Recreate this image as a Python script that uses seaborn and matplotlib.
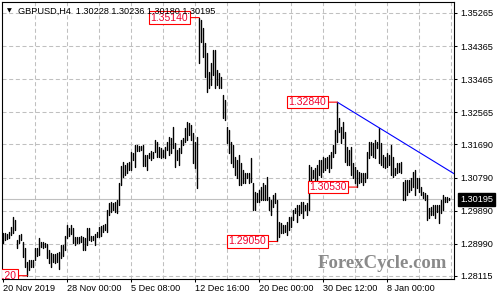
import numpy as np
import pandas as pd
import matplotlib
matplotlib.use("Agg")
import matplotlib.pyplot as plt
import seaborn as sns

# GBPUSD 4-hour bars (high / low of each bar)
symbol = "GBPUSD,H4"
last_ohlc = [1.30228, 1.30236, 1.30180, 1.30195]

highs = [
    1.2928, 1.2928, 1.2925, 1.2931, 1.2944, 1.2972, 1.2964, 1.2909, 1.2923, 1.2925,
    1.2904, 1.2887, 1.2849, 1.2855, 1.2855, 1.2855, 1.2887, 1.2887, 1.2915, 1.2904,
    1.2904, 1.2901, 1.2898, 1.2882, 1.2874, 1.2871, 1.2871, 1.2874, 1.2876, 1.2896,
    1.2896, 1.2920, 1.2950, 1.2942, 1.2950, 1.2942, 1.2917, 1.2917, 1.2917, 1.2920,
    1.2917, 1.2915, 1.2942, 1.2942, 1.2920, 1.2920, 1.2925, 1.2931, 1.2944, 1.2947,
    1.2950, 1.2953, 1.2991, 1.3010, 1.3013, 1.3010, 1.3013, 1.3018, 1.3064, 1.3110,
    1.3121, 1.3113, 1.3119, 1.3121, 1.3149, 1.3146, 1.3168, 1.3168, 1.3165, 1.3165,
    1.3168, 1.3140, 1.3140, 1.3146, 1.3151, 1.3149, 1.3181, 1.3176, 1.3162, 1.3159,
    1.3154, 1.3162, 1.3176, 1.3189, 1.3187, 1.3216, 1.3173, 1.3154, 1.3159, 1.3181,
    1.3187, 1.3214, 1.3230, 1.3227, 1.3222, 1.3200, 1.3176, 1.3189, 1.3514, 1.3508,
    1.3486, 1.3445, 1.3418, 1.3366, 1.3391, 1.3426, 1.3426, 1.3372, 1.3363, 1.3352,
    1.3303, 1.3290, 1.3216, 1.3208, 1.3176, 1.3168, 1.3135, 1.3127, 1.3140, 1.3119,
    1.3100, 1.3091, 1.3091, 1.3091, 1.3132, 1.3064, 1.3040, 1.3037, 1.3045, 1.3053,
    1.3064, 1.3059, 1.3080, 1.3026, 1.3018, 1.3031, 1.3037, 1.3018, 1.2958, 1.2955,
    1.2950, 1.2950, 1.2958, 1.2972, 1.2972, 1.2991, 1.2996, 1.3004, 1.3004, 1.3013,
    1.3013, 1.3004, 1.3010, 1.3113, 1.3108, 1.3100, 1.3105, 1.3113, 1.3127, 1.3127,
    1.3135, 1.3132, 1.3135, 1.3140, 1.3149, 1.3168, 1.3208, 1.3284, 1.3241, 1.3216,
    1.3230, 1.3203, 1.3162, 1.3154, 1.3162, 1.3119, 1.3108, 1.3100, 1.3094, 1.3091,
    1.3091, 1.3091, 1.3149, 1.3176, 1.3176, 1.3173, 1.3181, 1.3176, 1.3214, 1.3173,
    1.3140, 1.3135, 1.3146, 1.3140, 1.3168, 1.3135, 1.3105, 1.3119, 1.3119, 1.3121,
    1.3067, 1.3072, 1.3072, 1.3072, 1.3078, 1.3094, 1.3100, 1.3078, 1.3078, 1.3053,
    1.3040, 1.3037, 1.3031, 1.2996, 1.2999, 1.3004, 1.3004, 1.3004, 1.3004, 1.3018,
    1.3031, 1.3026, 1.3026, 1.30236,
]

lows = [
    1.2901, 1.2909, 1.2912, 1.2915, 1.2923, 1.2928, 1.2936, 1.2887, 1.2901, 1.2909,
    1.2863, 1.2836, 1.2812, 1.2828, 1.2836, 1.2836, 1.2855, 1.2866, 1.2868, 1.2890,
    1.2887, 1.2890, 1.2860, 1.2847, 1.2836, 1.2849, 1.2847, 1.2849, 1.2830, 1.2860,
    1.2866, 1.2882, 1.2915, 1.2920, 1.2925, 1.2901, 1.2896, 1.2901, 1.2901, 1.2904,
    1.2882, 1.2882, 1.2896, 1.2909, 1.2906, 1.2909, 1.2896, 1.2917, 1.2917, 1.2920,
    1.2931, 1.2936, 1.2931, 1.2977, 1.2985, 1.2991, 1.2985, 1.2983, 1.3004, 1.3059,
    1.3081, 1.3086, 1.3091, 1.3100, 1.3100, 1.3127, 1.3108, 1.3151, 1.3151, 1.3154,
    1.3110, 1.3110, 1.3100, 1.3132, 1.3127, 1.3132, 1.3149, 1.3135, 1.3135, 1.3132,
    1.3135, 1.3132, 1.3154, 1.3140, 1.3146, 1.3159, 1.3108, 1.3127, 1.3113, 1.3146,
    1.3168, 1.3176, 1.3181, 1.3195, 1.3181, 1.3119, 1.3105, 1.3051, 1.3391, 1.3448,
    1.3407, 1.3352, 1.3312, 1.3323, 1.3331, 1.3358, 1.3323, 1.3331, 1.3323, 1.3323,
    1.3241, 1.3235, 1.3173, 1.3146, 1.3119, 1.3108, 1.3086, 1.3078, 1.3059, 1.3059,
    1.3064, 1.3064, 1.3078, 1.3064, 1.3067, 1.2991, 1.2991, 1.3013, 1.3013, 1.3018,
    1.3018, 1.3018, 1.3018, 1.2991, 1.2977, 1.2999, 1.3010, 1.2905, 1.2917, 1.2928,
    1.2928, 1.2931, 1.2923, 1.2936, 1.2944, 1.2964, 1.2983, 1.2958, 1.2977, 1.2983,
    1.2969, 1.2991, 1.2977, 1.2991, 1.3064, 1.3078, 1.3064, 1.3072, 1.3086, 1.3081,
    1.3094, 1.3100, 1.3105, 1.3094, 1.3105, 1.3135, 1.3146, 1.3176, 1.3203, 1.3173,
    1.3187, 1.3121, 1.3113, 1.3113, 1.3086, 1.3078, 1.3064, 1.3053, 1.3064, 1.3067,
    1.3059, 1.3067, 1.3078, 1.3132, 1.3140, 1.3135, 1.3132, 1.3159, 1.3119, 1.3113,
    1.3108, 1.3105, 1.3108, 1.3113, 1.3086, 1.3081, 1.3086, 1.3091, 1.3094, 1.3091,
    1.3018, 1.3018, 1.3031, 1.3040, 1.3045, 1.3053, 1.3031, 1.3051, 1.3040, 1.3031,
    1.3023, 1.3018, 1.2963, 1.2969, 1.2977, 1.2977, 1.2969, 1.2985, 1.2955, 1.2983,
    1.2991, 1.3013, 1.3013, 1.30180,
]

date_labels = ["20 Nov 2019", "28 Nov 00:00", "5 Dec 08:00", "12 Dec 16:00",
               "20 Dec 00:00", "30 Dec 12:00", "8 Jan 00:00"]
price_ticks = [1.35265, 1.34365, 1.33465, 1.32565, 1.31690,
               1.30790, 1.29890, 1.28990, 1.28115]
swing_bars = [12, 98, 137, 167, 177]
swing_kinds = ["low", "high", "low", "high", "low"]
trend_bars = [167, 188]

sns.set_theme(style="white")
plt.rcParams["font.family"] = ["Liberation Sans", "DejaVu Sans"]
plt.rcParams["lines.scale_dashes"] = False

fig = plt.figure(figsize=(5, 3), dpi=100)
ax = fig.add_axes([2.3 / 500, 21 / 300, 452 / 500, 277 / 300])

n = len(highs)
bars = pd.DataFrame({
    "bar": np.repeat(np.arange(n), 2),
    "price": np.column_stack([lows, highs]).ravel(),
})

# one vertical high-low stroke per bar
sns.lineplot(data=bars, x="bar", y="price", units="bar", estimator=None,
             sort=False, color="black", lw=1.0, ax=ax, zorder=4)

ax.set_xlim(-0.5, 225.5)
ax.set_ylim(1.28030, 1.35564)
ax.set_xlabel("")
ax.set_ylabel("")

# grid
grid_kw = dict(color="#c0c0c0", lw=0.75, ls=(0, (2.9, 1.9)), zorder=1)
for t in price_ticks:
    ax.axhline(t, **grid_kw)
for v in range(16, n + 1, 16):
    ax.axvline(v, **grid_kw)

# current price line
close = last_ohlc[3]
ax.axhline(close, color="#c0c0c0", lw=0.8, zorder=2)

# axes
ax.yaxis.tick_right()
ax.set_yticks(price_ticks)
ax.set_yticklabels([f"{t:.5f}" for t in price_ticks])
ax.set_xticks(np.arange(len(date_labels)) * 32)
ax.set_xticklabels(date_labels)
for lbl in ax.get_xticklabels():
    lbl.set_horizontalalignment("left")
ax.tick_params(axis="y", which="both", right=True, left=False, direction="out",
               length=2.3, width=0.75, pad=1.8, labelsize=6.6, colors="black")
ax.tick_params(axis="x", which="both", bottom=True, direction="out",
               length=2.3, width=0.75, pad=1.5, labelsize=6.6, colors="black")
for s in ax.spines.values():
    s.set_color("black")
    s.set_linewidth(0.8)
    s.set_visible(True)

# current price tag
ax.text(1.0126, close, f"{close:.5f}", transform=ax.get_yaxis_transform(),
        ha="left", va="center", fontsize=6.6, color="white", clip_on=False,
        bbox=dict(boxstyle="square,pad=0.25", fc="black", ec="black"), zorder=10)

# descending trendline from the 1.3284 top
x0, x1 = trend_bars
slope = (highs[x1] - highs[x0]) / (x1 - x0)
tx = np.array([x0, 225.5])
ty = highs[x0] + slope * (tx - x0)
sns.lineplot(x=tx, y=ty, color="#0000ff", lw=0.8, ax=ax, zorder=5)

# swing labels
for b, kind in zip(swing_bars, swing_kinds):
    val = highs[b] if kind == "high" else lows[b]
    ax.annotate(f"{val:.5f}", xy=(b, val), xytext=(-11, 0),
                textcoords="offset pixels", ha="right", va="center",
                fontsize=7.5, color="#f0002d", clip_on=True, zorder=6,
                bbox=dict(boxstyle="square,pad=0.12", fc="white", ec="#ff0000", lw=0.8),
                arrowprops=dict(arrowstyle="-", color="#ff0000", lw=0.8,
                                shrinkA=0, shrinkB=0))

# header
fig.text(7 / 500, 1 - 10.5 / 300, "\u25bc", family="DejaVu Sans", fontsize=4.5,
         ha="left", va="center", color="black")
fig.text(18 / 500, 1 - 11 / 300,
         f"{symbol}  " + " ".join(f"{v:.5f}" for v in last_ohlc),
         ha="left", va="center", fontsize=6.6, color="black")

# watermark
fig.text(382 / 500, 1 - 264 / 300, "ForexCycle.com", family="Liberation Serif",
         weight="bold", fontsize=13.5, color="#8a8a8a", ha="center", va="center")

fig.savefig("out.png", dpi=100)
